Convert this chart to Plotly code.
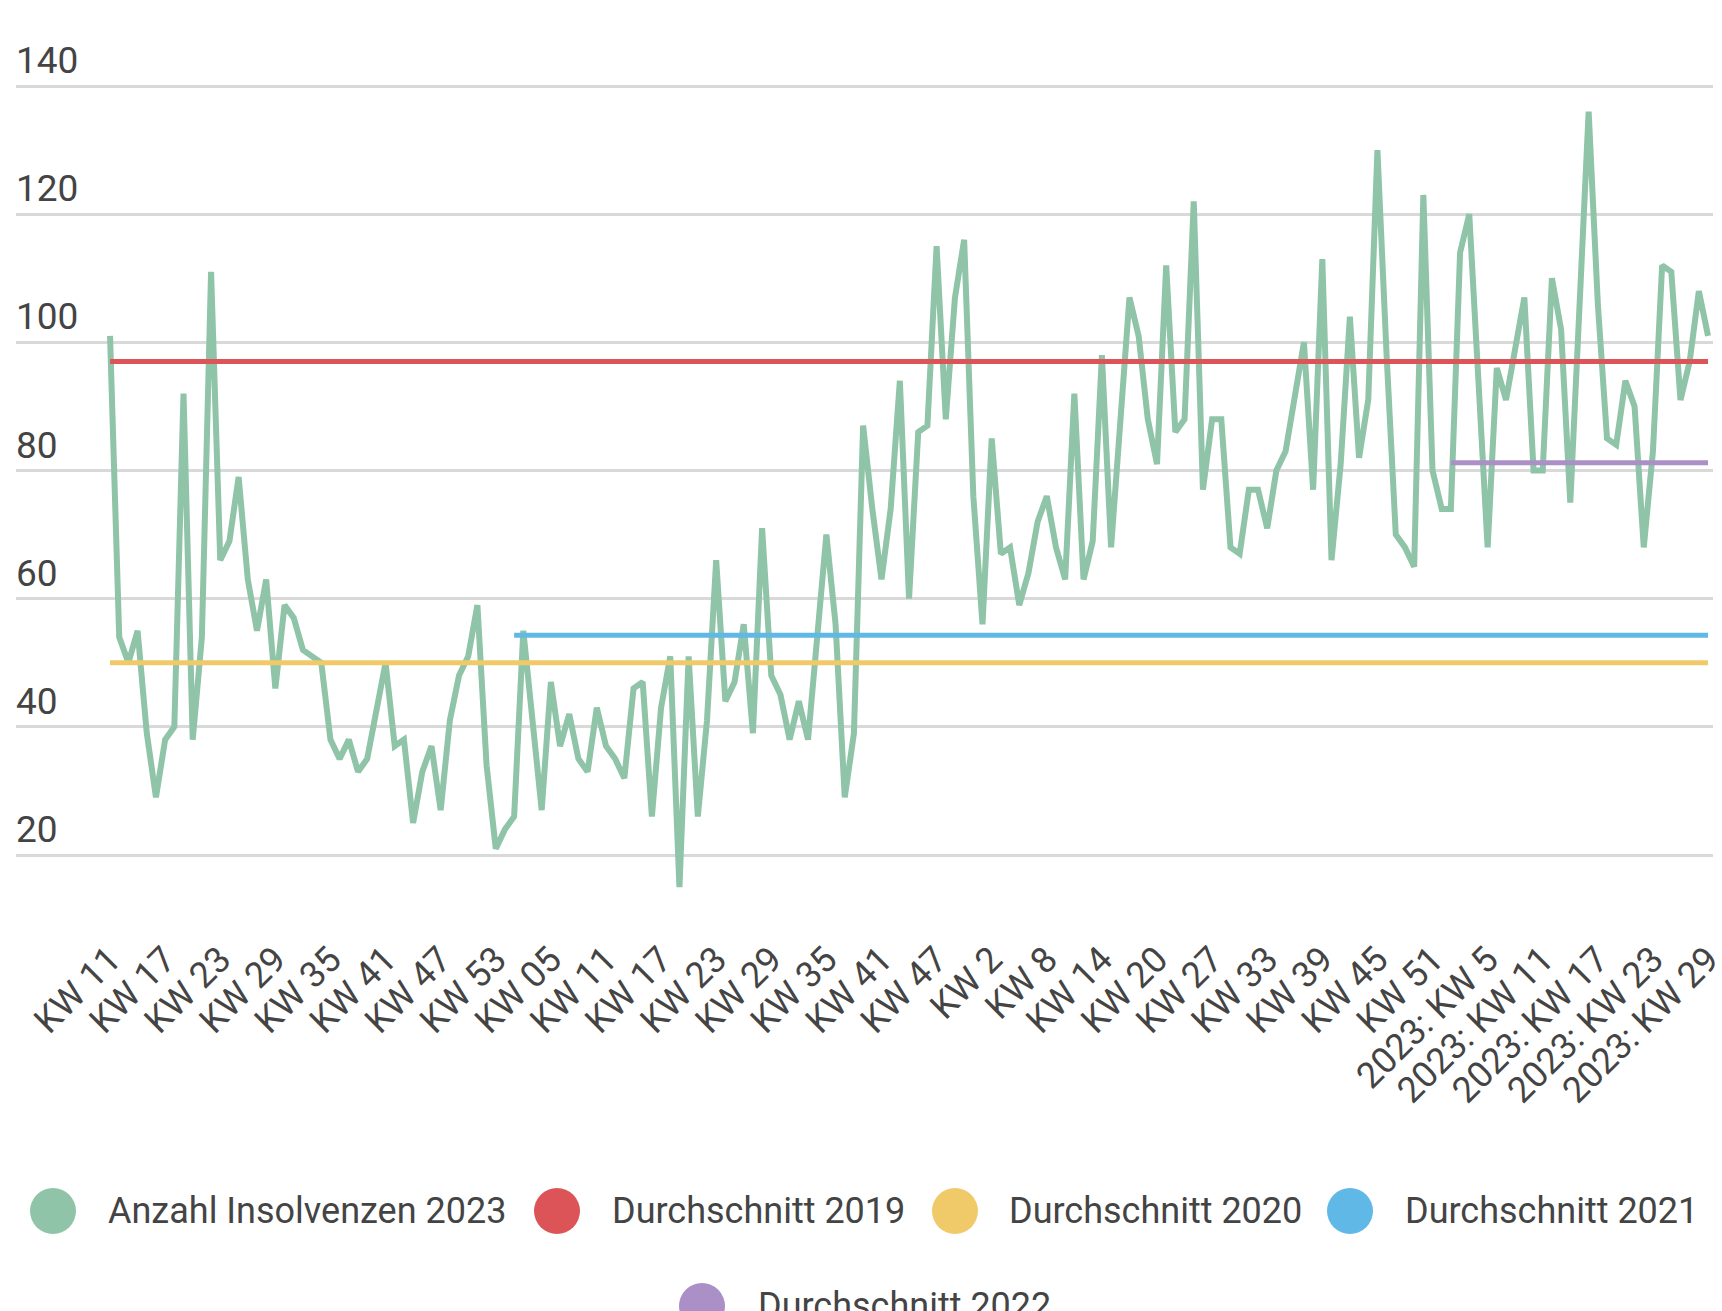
import plotly.graph_objects as go

# ---------------- data ----------------
weeks_2020 = list(range(11, 54))                                   # KW 11 .. KW 53
weeks_2021 = [53] + list(range(1, 53))                             # KW 53 (turn of year), KW 1 .. KW 52
weeks_2022 = list(range(2, 24)) + [25, 26] + list(range(27, 53))   # as reported
weeks_2023 = list(range(1, 30))                                    # KW 1 .. KW 29

categories = ([f"2020 KW {w}" for w in weeks_2020] + [f"2021 KW {w}" for w in weeks_2021]
              + [f"2022 KW {w}" for w in weeks_2022] + [f"2023 KW {w}" for w in weeks_2023])

insolvenzen = [
    101, 54, 50, 55, 39, 29, 38, 40, 92, 38, 54, 111, 66, 69, 79, 63, 55, 63, 46, 59,
    57, 52, 51, 50, 38, 35, 38, 33, 35, 42, 50, 37, 38, 25, 33, 37, 27, 41, 48, 51,
    59, 34, 21, 24, 26, 55, 41, 27, 47, 37, 42, 35, 33, 43, 37, 35, 32, 46, 47, 26,
    43, 51, 15, 51, 26, 41, 66, 44, 47, 56, 39, 71, 48, 45, 38, 44, 38, 53, 70, 56,
    29, 39, 87, 74, 63, 74, 94, 60, 86, 87, 115, 88, 107, 116, 76, 56, 85, 67, 68, 59,
    64, 72, 76, 68, 63, 92, 63, 69, 98, 68, 89, 107, 101, 88, 81, 112, 86, 88, 122, 77,
    88, 88, 68, 67, 77, 77, 71, 80, 83, 91, 100, 77, 113, 66, 81, 104, 82, 91, 130, 98,
    70, 68, 65, 123, 80, 74, 74, 114, 120, 94, 68, 96, 91, 99, 107, 80, 80, 110, 102, 75,
    105, 136, 106, 85, 84, 94, 90, 68, 83, 112, 111, 91, 97, 108, 101,
]

avg_names = ["Durchschnitt 2019", "Durchschnitt 2020", "Durchschnitt 2021", "Durchschnitt 2022"]
avg_values = [97, 50, 54.3, 81.2]
avg_start = ["2020 KW 11", "2020 KW 11", "2021 KW 1", "2023 KW 1"]

tick_labels = ["KW 11", "KW 17", "KW 23", "KW 29", "KW 35", "KW 41", "KW 47", "KW 53",
               "KW 05", "KW 11", "KW 17", "KW 23", "KW 29", "KW 35", "KW 41", "KW 47",
               "KW 2", "KW 8", "KW 14", "KW 20", "KW 27", "KW 33", "KW 39", "KW 45", "KW 51",
               "2023: KW 5", "2023: KW 11", "2023: KW 17", "2023: KW 23", "2023: KW 29"]
y_ticks = [20, 40, 60, 80, 100, 120, 140]

# ---------------- style ----------------
GREEN = "#8fc4a8"
AVG_COLORS = ["#dc5457", "#f0ca68", "#5fb8e5", "#ab8fc7"]
TEXT = "#444444"
FONT = "Roboto"

W, H = 1722, 1311
ML, MR, MT, MB = 16, 9, 40, 381
PW, PH = W - ML - MR, H - MT - MB

fig = go.Figure()
fig.add_trace(go.Scatter(x=categories, y=insolvenzen, mode="lines",
                         name="Anzahl Insolvenzen 2023",
                         line=dict(color=GREEN, width=6)))
for name, val, start, col in zip(avg_names, avg_values, avg_start, AVG_COLORS):
    fig.add_trace(go.Scatter(x=[start, categories[-1]], y=[val, val], mode="lines",
                             name=name, line=dict(color=col, width=5)))

fig.update_layout(
    width=W, height=H,
    margin=dict(l=ML, r=MR, t=MT, b=MB, autoexpand=False),
    paper_bgcolor="white", plot_bgcolor="white",
    showlegend=False,
    font=dict(family=FONT, color=TEXT, size=36),
    hovermode=False,
)
fig.update_xaxes(
    type="category", categoryorder="array", categoryarray=categories,
    range=[-10.24, len(categories) - 1 + 0.54],
    tickmode="array", tickvals=categories[::6], ticktext=tick_labels,
    tickangle=-45, showgrid=False, zeroline=False, showline=False, ticks="",
    automargin=False,
    tickfont=dict(family=FONT, size=36, color=TEXT),
)
fig.update_yaxes(
    range=[8.296, 147.18], tickmode="array", tickvals=y_ticks,
    showgrid=True, gridcolor="#d9d9d9", gridwidth=3,
    zeroline=False, showline=False, ticks="", automargin=False,
    ticklabelposition="inside top", ticklabeloverflow="allow", ticklabelstandoff=-3,
    tickfont=dict(family=FONT, size=37, color=TEXT),
)

# ---------------- legend (drawn manually for large circular keys) ----------------
def px_x(x):
    return (x - ML) / PW

def px_y(y):
    return (MT + PH - y) / PH

legend_items = [("Anzahl Insolvenzen 2023", GREEN, 53, 106, 1211)] + [
    (n, c, cx, tx, cy) for n, c, cx, tx, cy in zip(
        avg_names, AVG_COLORS, [557, 955, 1350, 702], [610, 1007, 1403, 756], [1211, 1211, 1211, 1306])
]
R_DOT = 23
for name, col, cx, tx, cy in legend_items:
    fig.add_shape(type="circle", xref="paper", yref="paper",
                  x0=px_x(cx - R_DOT), x1=px_x(cx + R_DOT),
                  y0=px_y(cy + R_DOT), y1=px_y(cy - R_DOT),
                  fillcolor=col, line=dict(width=0))
    fig.add_annotation(text=name, xref="paper", yref="paper",
                       x=px_x(tx), y=px_y(cy), xanchor="left", yanchor="middle",
                       showarrow=False, font=dict(family=FONT, size=36, color=TEXT))

fig.write_html("out.html",
               config={"displayModeBar": False, "responsive": False},
               post_script="document.body.style.margin='0';document.body.style.overflow='hidden';")
